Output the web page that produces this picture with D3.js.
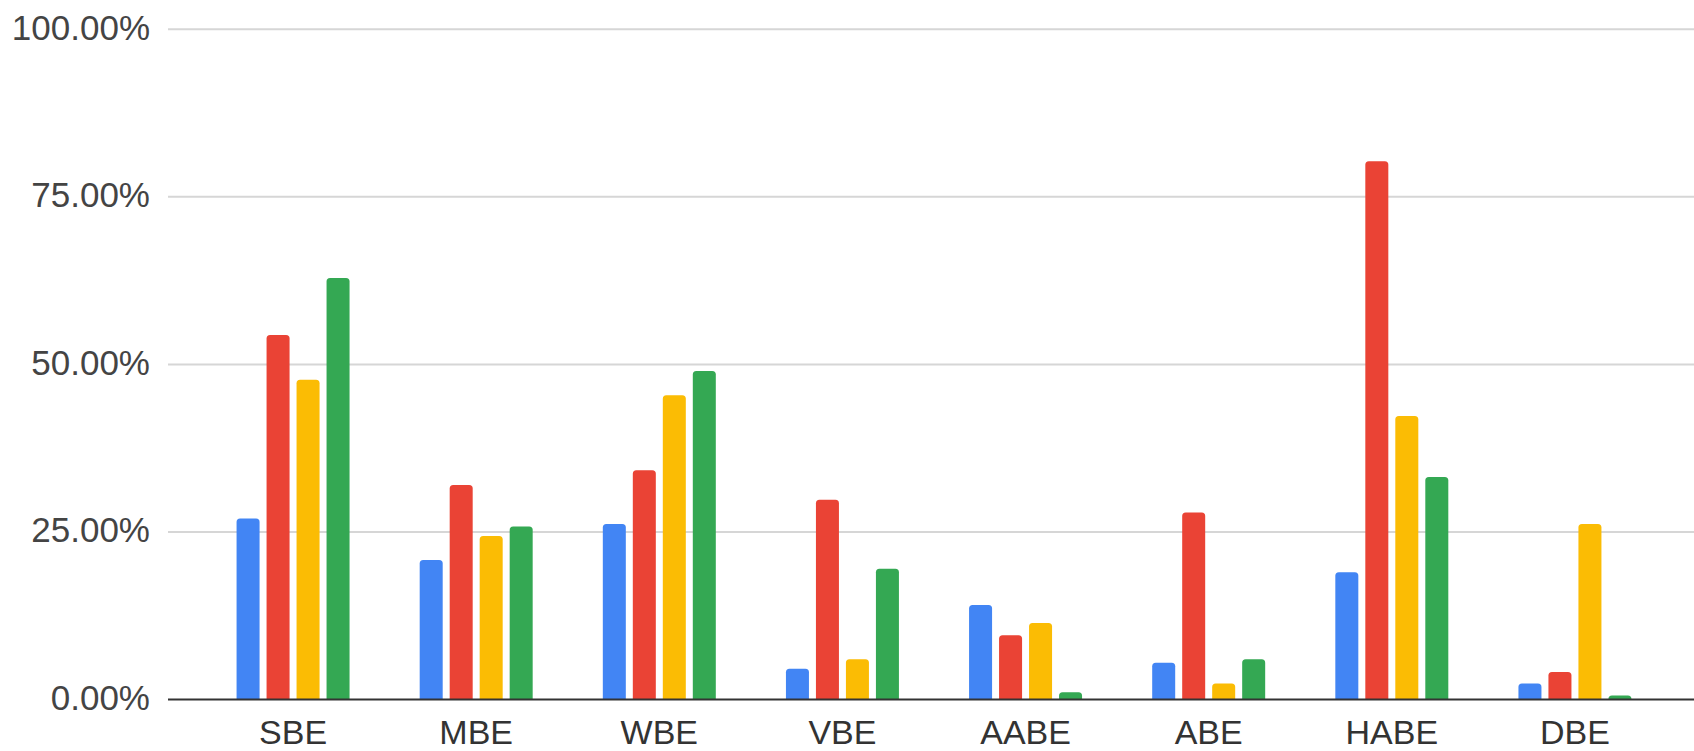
<!DOCTYPE html>
<html>
<head>
<meta charset="utf-8">
<script src="https://cdn.jsdelivr.net/npm/d3@7/dist/d3.min.js"></script>
<style>
  html, body { margin: 0; padding: 0; background: #ffffff; }
  svg { display: block; }
</style>
</head>
<body>
<svg id="chart" width="1694" height="751"></svg>
<script>
// ---- Data ----
const categories = ["SBE", "MBE", "WBE", "VBE", "AABE", "ABE", "HABE", "DBE"];
const seriesNames = ["Series 1", "Series 2", "Series 3", "Series 4"];
const seriesBlue   = [27.0, 20.8, 26.2, 4.6, 14.1, 5.5, 19.0, 2.4];
const seriesRed    = [54.4, 32.0, 34.2, 29.8, 9.6, 27.9, 80.3, 4.1];
const seriesYellow = [47.7, 24.4, 45.4, 6.0, 11.4, 2.4, 42.3, 26.2];
const seriesGreen  = [62.9, 25.8, 49.0, 19.5, 1.1, 6.0, 33.2, 0.6];
const seriesValues = [seriesBlue, seriesRed, seriesYellow, seriesGreen];
const seriesColors = ["#4285f4", "#ea4335", "#fbbc04", "#34a853"];
const yTicks = [0, 25, 50, 75, 100];
const yTickLabels = ["0.00%", "25.00%", "50.00%", "75.00%", "100.00%"];

// ---- Layout ----
const W = 1694, H = 751;
const gridLeft = 168, gridRight = 1694;
const y = d3.scaleLinear().domain([0, 100]).range([699.5, 29.3]);
const x0 = d3.scaleBand().domain(categories).range([201.5, 1666.5])
  .paddingInner(0.383).paddingOuter(0.383 / 2);
const x1 = d3.scaleBand().domain(seriesNames).range([0, x0.bandwidth()])
  .paddingInner(0.233).paddingOuter(0);

const svg = d3.select("#chart");
const font = "'Liberation Sans', Arial, sans-serif";

// gridlines
svg.append("g").selectAll("line").data(yTicks.filter(t => t > 0)).join("line")
  .attr("x1", gridLeft).attr("x2", gridRight)
  .attr("y1", d => y(d)).attr("y2", d => y(d))
  .attr("stroke", "#d6d6d6").attr("stroke-width", 2);

// y tick labels
svg.append("g").selectAll("text").data(yTicks).join("text")
  .attr("x", 150).attr("y", d => y(d) - 2)
  .attr("text-anchor", "end").attr("dominant-baseline", "central")
  .attr("font-family", font).attr("font-size", 35).attr("fill", "#444444")
  .text((d, i) => yTickLabels[i]);

// bars
function barPath(xL, w, yTop, yBot, r) {
  const h = yBot - yTop;
  const rr = Math.min(r, h, w / 2);
  return `M${xL},${yBot} L${xL},${yTop + rr} Q${xL},${yTop} ${xL + rr},${yTop} ` +
         `L${xL + w - rr},${yTop} Q${xL + w},${yTop} ${xL + w},${yTop + rr} L${xL + w},${yBot} Z`;
}
const groups = svg.append("g").selectAll("g").data(categories).join("g")
  .attr("transform", d => `translate(${x0(d)},0)`);
groups.selectAll("path").data((c, ci) => seriesNames.map((s, si) => ({ s, si, v: seriesValues[si][ci] })))
  .join("path")
  .attr("d", d => barPath(x1(d.s), x1.bandwidth(), y(d.v), y(0), 3.5))
  .attr("fill", d => seriesColors[d.si]);

// baseline axis
svg.append("line").attr("x1", gridLeft).attr("x2", gridRight)
  .attr("y1", y(0)).attr("y2", y(0))
  .attr("stroke", "#333333").attr("stroke-width", 2);

// category labels
svg.append("g").selectAll("text").data(categories).join("text")
  .attr("x", d => x0(d) + x0.bandwidth() / 2).attr("y", 743.5)
  .attr("text-anchor", "middle")
  .attr("font-family", font).attr("font-size", 34).attr("fill", "#333333")
  .text(d => d);
</script>
</body>
</html>
